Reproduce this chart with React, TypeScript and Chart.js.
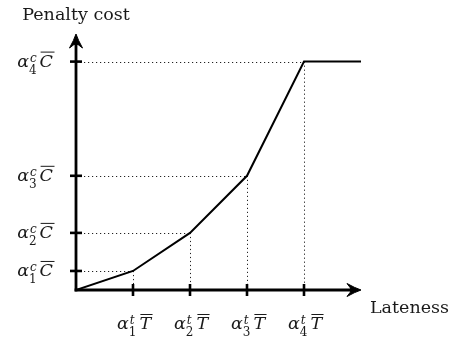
import React, { useEffect, useRef } from "react";
import { Chart, registerables } from "chart.js";

Chart.register(...registerables);

// Data (abstract units)
const latenessValues = [0, 1, 2, 3, 4, 5];
const costValues = [0, 1, 3, 6, 12, 12];
const xTickValues = [1, 2, 3, 4];
const yTickValues = [1, 3, 6, 12];
const tickIndices = ["1", "2", "3", "4"];
const xTickSup = "t";
const xTickBase = "T";
const yTickSup = "c";
const yTickBase = "C";
const yAxisTitle = "Penalty cost";
const xAxisTitle = "Lateness";

const FONT = "'DejaVu Serif', 'Liberation Serif', serif";
const MAIN = 17.5;
const SCRIPT = 12;
const TITLE = 17.5;

function mathLabelWidth(ctx: CanvasRenderingContext2D, sup: string, sub: string, base: string) {
  ctx.font = `italic ${MAIN}px ${FONT}`;
  const wa = ctx.measureText("\u03B1").width;
  const wb = ctx.measureText(base).width;
  ctx.font = `italic ${SCRIPT}px ${FONT}`;
  const wsup = ctx.measureText(sup).width;
  ctx.font = `${SCRIPT}px ${FONT}`;
  const wsub = ctx.measureText(sub).width;
  const ws = Math.max(wsup, wsub) + 1;
  return { wa, wb, ws, total: wa + ws + 2 + wb };
}

function drawMathLabel(
  ctx: CanvasRenderingContext2D,
  left: number,
  baseline: number,
  sup: string,
  sub: string,
  base: string
) {
  const m = mathLabelWidth(ctx, sup, sub, base);
  ctx.fillStyle = "#1a1a1a";
  ctx.textAlign = "left";
  ctx.textBaseline = "alphabetic";
  ctx.font = `italic ${MAIN}px ${FONT}`;
  ctx.fillText("\u03B1", left, baseline);
  let x = left + m.wa;
  ctx.font = `italic ${SCRIPT}px ${FONT}`;
  ctx.fillText(sup, x + 1, baseline - 5);
  ctx.font = `${SCRIPT}px ${FONT}`;
  ctx.fillText(sub, x, baseline + 7);
  x += m.ws + 2;
  ctx.font = `italic ${MAIN}px ${FONT}`;
  ctx.fillText(base, x, baseline);
  // overline
  ctx.strokeStyle = "#1a1a1a";
  ctx.lineWidth = 1;
  ctx.setLineDash([]);
  ctx.beginPath();
  ctx.moveTo(x + 1, baseline - 14.5);
  ctx.lineTo(x + m.wb + 1.5, baseline - 14.5);
  ctx.stroke();
  return m.total;
}

function drawArrowHead(ctx: CanvasRenderingContext2D, tx: number, ty: number, angle: number) {
  ctx.save();
  ctx.translate(tx, ty);
  ctx.rotate(angle);
  // pointing along +x
  ctx.beginPath();
  ctx.moveTo(0, 0);
  ctx.quadraticCurveTo(-6, -2, -14, -6.5);
  ctx.quadraticCurveTo(-10, -2, -10, 0);
  ctx.quadraticCurveTo(-10, 2, -14, 6.5);
  ctx.quadraticCurveTo(-6, 2, 0, 0);
  ctx.closePath();
  ctx.fillStyle = "#000";
  ctx.fill();
  ctx.lineWidth = 1;
  ctx.strokeStyle = "#000";
  ctx.stroke();
  ctx.restore();
}

const decorPlugin = {
  id: "decor",
  beforeDatasetsDraw(chart: any) {
    const ctx: CanvasRenderingContext2D = chart.ctx;
    const xs = chart.scales.x;
    const ys = chart.scales.y;
    const x0 = xs.getPixelForValue(0);
    const y0 = ys.getPixelForValue(0);
    ctx.save();
    // dotted guide lines
    ctx.strokeStyle = "#222";
    ctx.lineWidth = 1;
    ctx.setLineDash([1.2, 2.8]);
    for (let i = 1; i < latenessValues.length - 1; i++) {
      const px = xs.getPixelForValue(latenessValues[i]);
      const py = ys.getPixelForValue(costValues[i]);
      ctx.beginPath();
      ctx.moveTo(x0, Math.round(py) + 0.5);
      ctx.lineTo(px, Math.round(py) + 0.5);
      ctx.stroke();
      ctx.beginPath();
      ctx.moveTo(Math.round(px) + 0.5, py);
      ctx.lineTo(Math.round(px) + 0.5, y0);
      ctx.stroke();
    }
    ctx.setLineDash([]);
    // axes
    const xEnd = chart.chartArea.right;
    const yEnd = chart.chartArea.top;
    ctx.strokeStyle = "#000";
    ctx.lineWidth = 2.8;
    ctx.lineCap = "butt";
    ctx.beginPath();
    ctx.moveTo(x0, y0 + 1.4);
    ctx.lineTo(x0, yEnd + 9);
    ctx.stroke();
    ctx.beginPath();
    ctx.moveTo(x0 - 1.4, y0);
    ctx.lineTo(xEnd - 9, y0);
    ctx.stroke();
    drawArrowHead(ctx, x0, yEnd, -Math.PI / 2);
    drawArrowHead(ctx, xEnd, y0, 0);
    // ticks
    ctx.lineWidth = 2.6;
    for (const v of yTickValues) {
      const py = ys.getPixelForValue(v);
      ctx.beginPath();
      ctx.moveTo(x0 - 6, py);
      ctx.lineTo(x0 + 6, py);
      ctx.stroke();
    }
    for (const v of xTickValues) {
      const px = xs.getPixelForValue(v);
      ctx.beginPath();
      ctx.moveTo(px, y0 - 6);
      ctx.lineTo(px, y0 + 6);
      ctx.stroke();
    }
    ctx.restore();
  },
  afterDraw(chart: any) {
    const ctx: CanvasRenderingContext2D = chart.ctx;
    const xs = chart.scales.x;
    const ys = chart.scales.y;
    const x0 = xs.getPixelForValue(0);
    const y0 = ys.getPixelForValue(0);
    ctx.save();
    yTickValues.forEach((v, i) => {
      const py = ys.getPixelForValue(v);
      const m = mathLabelWidth(ctx, yTickSup, tickIndices[i], yTickBase);
      drawMathLabel(ctx, x0 - 23 - m.total, py + 5, yTickSup, tickIndices[i], yTickBase);
    });
    xTickValues.forEach((v, i) => {
      const px = xs.getPixelForValue(v);
      const m = mathLabelWidth(ctx, xTickSup, tickIndices[i], xTickBase);
      drawMathLabel(ctx, px - m.total / 2 + 1, y0 + 39, xTickSup, tickIndices[i], xTickBase);
    });
    ctx.fillStyle = "#1a1a1a";
    ctx.font = `${TITLE}px ${FONT}`;
    ctx.textBaseline = "alphabetic";
    ctx.textAlign = "center";
    ctx.fillText(yAxisTitle, x0, 20);
    ctx.textAlign = "left";
    ctx.fillText(xAxisTitle, chart.chartArea.right + 9, y0 + 23);
    ctx.restore();
  },
};

export default function App() {
  const ref = useRef<HTMLCanvasElement | null>(null);
  useEffect(() => {
    if (!ref.current) return;
    const chart = new Chart(ref.current, {
      type: "scatter",
      data: {
        datasets: [
          {
            data: latenessValues.map((x, i) => ({ x, y: costValues[i] })),
            showLine: true,
            borderColor: "#000",
            borderWidth: 2,
            pointRadius: 0,
            tension: 0,
          },
        ],
      },
      options: {
        animation: false,
        responsive: false,
        maintainAspectRatio: false,
        layout: { padding: { left: 76, right: 89, top: 34, bottom: 56 } },
        plugins: { legend: { display: false }, tooltip: { enabled: false } },
        scales: {
          x: { type: "linear", min: 0, max: 5, display: false },
          y: { type: "linear", min: 0, max: 13.45, display: false },
        },
      },
      plugins: [decorPlugin],
    });
    return () => chart.destroy();
  }, []);
  return (
    <div style={{ position: "fixed", left: 0, top: 0, width: 450, height: 346, background: "#fff" }}>
      <canvas ref={ref} width={450} height={346} style={{ width: 450, height: 346 }} />
    </div>
  );
}
